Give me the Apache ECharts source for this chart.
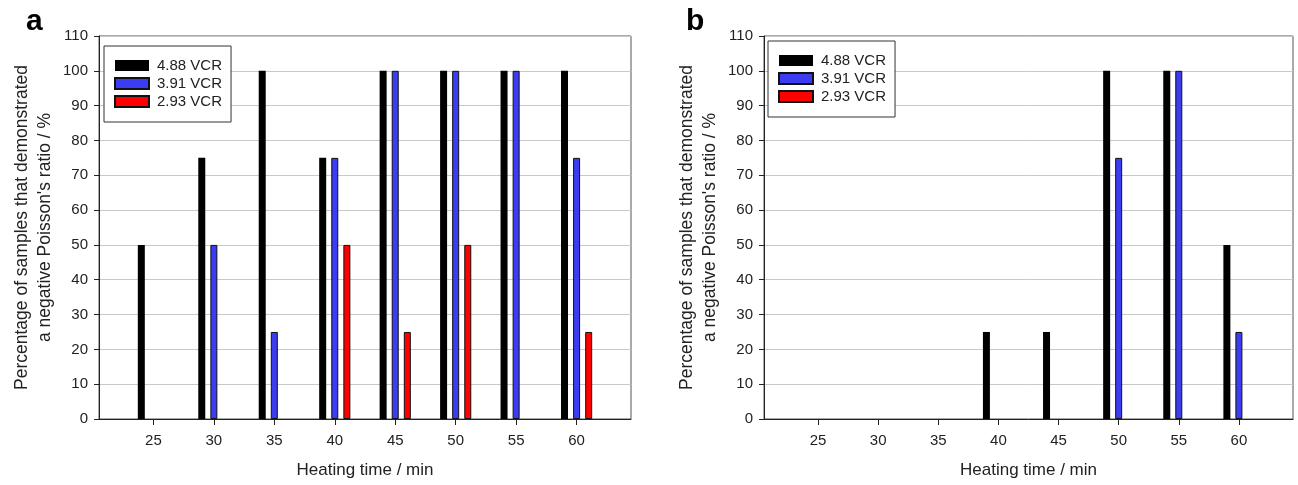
<!DOCTYPE html>
<html>
<head>
<meta charset="utf-8">
<script src="https://cdn.jsdelivr.net/npm/echarts@6/dist/echarts.min.js"></script>
<style>html,body{margin:0;padding:0;background:#fff;}#c{width:1298px;height:485px;}</style>
</head>
<body>
<div id="c"></div>
<script>
// ---- data ----
const heatingTimes = [25, 30, 35, 40, 45, 50, 55, 60];
const seriesNames = ['4.88 VCR', '3.91 VCR', '2.93 VCR'];
// panel a
const aVcr488 = [50, 75, 100, 75, 100, 100, 100, 100];
const aVcr391 = [0, 50, 25, 75, 100, 100, 100, 75];
const aVcr293 = [0, 0, 0, 50, 25, 50, 0, 25];
// panel b
const bVcr488 = [0, 0, 0, 25, 25, 100, 100, 50];
const bVcr391 = [0, 0, 0, 0, 0, 75, 100, 25];
const bVcr293 = [0, 0, 0, 0, 0, 0, 0, 0];
const yTicks = [0, 10, 20, 30, 40, 50, 60, 70, 80, 90, 100, 110];

const colors = ['#000000', '#3c3cf2', '#ff0000'];
const offsets = [-1, 0, 1];
const FONT = '"Liberation Sans", Arial, sans-serif';
const TXT = '#222';

function toData(vals, off) {
  return heatingTimes.map((t, i) => [t + off, vals[i]]).filter(d => d[1] > 0);
}

function axesFor(idx) {
  return {
    x: {
      type: 'value', gridIndex: idx, min: 20.5, max: 64.5,
      name: 'Heating time / min', nameLocation: 'middle', nameGap: 43,
      nameTextStyle: { fontFamily: FONT, fontSize: 17, color: TXT },
      axisLine: { show: true, lineStyle: { color: '#222', width: 1 } },
      axisTick: { show: true, length: 6, customValues: heatingTimes, lineStyle: { color: '#222' } },
      axisLabel: { customValues: heatingTimes, fontFamily: FONT, fontSize: 15, color: TXT, margin: 14 },
      splitLine: { show: false }
    },
    y: {
      type: 'value', gridIndex: idx, min: yTicks[0], max: yTicks[yTicks.length - 1], interval: 10,
      name: "Percentage of samples that demonstrated\na negative Poisson's ratio / %",
      nameLocation: 'middle', nameGap: 42, nameRotate: 90,
      nameTextStyle: { fontFamily: FONT, fontSize: 17.5, color: TXT, lineHeight: 23, align: 'center' },
      axisLine: { show: true, lineStyle: { color: '#222', width: 1 } },
      axisTick: { show: true, length: 5, lineStyle: { color: '#222' } },
      axisLabel: { fontFamily: FONT, fontSize: 15, color: TXT, margin: 11 },
      splitLine: { show: true, lineStyle: { color: '#c8c8c8', width: 1 } }
    }
  };
}

const ax0 = axesFor(0), ax1 = axesFor(1);

function barSeries(name, vals, k, idx) {
  return {
    type: 'bar', name: name, xAxisIndex: idx, yAxisIndex: idx,
    data: toData(vals, offsets[k]),
    barWidth: 7, barGap: '-100%',
    itemStyle: { color: colors[k], borderColor: '#111', borderWidth: k === 0 ? 0 : 1 },
    emphasis: { disabled: true },
    animation: false
  };
}

function legendAt(left, top) {
  return {
    data: seriesNames, orient: 'vertical', left: left, top: top,
    icon: 'rect', itemWidth: 34, itemHeight: 11, itemGap: 3,
    padding: [12, 9, 13, 10],
    borderColor: '#333', borderWidth: 1, backgroundColor: '#fff',
    textStyle: { fontFamily: FONT, fontSize: 15, color: TXT, padding: [0, 0, 0, 3] },
    selectedMode: false
  };
}

const option = {
  animation: false,
  backgroundColor: '#fff',
  grid: [
    { left: 99, top: 36, right: 667, bottom: 66, show: true, borderColor: '#555', borderWidth: 1, backgroundColor: 'transparent' },
    { left: 764, top: 36, right: 5, bottom: 66, show: true, borderColor: '#555', borderWidth: 1, backgroundColor: 'transparent' }
  ],
  xAxis: [ax0.x, ax1.x],
  yAxis: [ax0.y, ax1.y],
  legend: [legendAt(104, 46), legendAt(768, 41)],
  graphic: [
    { type: 'text', left: 26, top: 7, style: { text: 'a', font: 'bold 30px ' + FONT, fill: '#000' } },
    { type: 'text', left: 686, top: 7, style: { text: 'b', font: 'bold 30px ' + FONT, fill: '#000' } }
  ],
  series: [
    barSeries(seriesNames[0], aVcr488, 0, 0),
    barSeries(seriesNames[1], aVcr391, 1, 0),
    barSeries(seriesNames[2], aVcr293, 2, 0),
    barSeries(seriesNames[0], bVcr488, 0, 1),
    barSeries(seriesNames[1], bVcr391, 1, 1),
    barSeries(seriesNames[2], bVcr293, 2, 1)
  ]
};

const chart = echarts.init(document.getElementById('c'), null, { renderer: 'canvas' });
chart.setOption(option);
</script>
</body>
</html>
